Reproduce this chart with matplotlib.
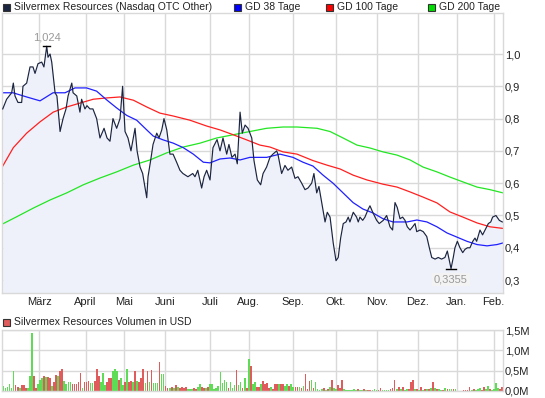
import numpy as np
import matplotlib
matplotlib.use('Agg')
import matplotlib.pyplot as plt
from matplotlib.patches import Rectangle

plt.rcParams['font.family'] = ['Liberation Sans', 'DejaVu Sans']

# trading-day index (0 .. 270) and closing price in USD
price_days = [0.4, 2.5, 5.2, 6.1, 7.0, 8.6, 10.6, 11.3, 13.3, 15.1, 16.7, 17.8, 19.4, 21.4, 22.6,
              24.1, 24.8, 25.9, 26.8, 28.6, 29.6, 31.3, 32.9, 34.5, 35.6, 37.6, 38.3, 40.3, 42.0,
              42.9, 44.7, 45.8, 47.4, 49.0, 51.0, 52.8, 55.0, 56.6, 58.2, 59.8, 61.8, 63.6, 65.0,
              66.3, 67.9, 69.5, 71.7, 72.8, 74.4, 75.8, 78.0, 78.7, 80.1, 81.4, 83.4, 84.6, 86.1,
              87.3, 88.8, 90.5, 92.2, 94.1, 95.9, 97.5, 100.2, 102.8, 104.0, 105.5, 107.6, 108.9,
              110.3, 112.1, 113.7, 115.9, 117.5, 119.1, 121.1, 122.3, 123.9, 125.6, 126.8, 128.3,
              129.5, 131.0, 132.6, 134.6, 135.8, 137.6, 139.4, 140.7, 142.6, 144.4, 146.0, 148.0,
              148.7, 150.7, 152.5, 154.1, 156.1, 157.9, 159.5, 161.5, 163.3, 164.9, 166.9, 168.1,
              169.6, 170.8, 172.3, 174.1, 175.3, 176.8, 178.5, 180.0, 181.2, 182.5, 183.9, 185.4,
              186.6, 187.5, 189.3, 191.1, 192.0, 192.9, 194.4, 195.6, 197.4, 198.3, 199.8, 201.9,
              203.3, 205.5, 207.3, 209.1, 210.5, 211.8, 213.0, 214.5, 215.9, 217.2, 218.4, 219.9,
              221.3, 222.6, 223.5, 225.3, 227.0, 228.9, 230.3, 231.6, 233.4, 235.1, 236.9, 238.7,
              240.0, 241.1, 242.0, 243.2, 244.1, 245.4, 246.8, 248.3, 249.5, 250.8, 252.2, 253.7,
              254.9, 255.8, 257.6, 259.0, 260.3, 262.1, 263.4, 264.4, 266.2, 268.0, 269.6]
price = [0.83, 0.86, 0.88, 0.91, 0.87, 0.85, 0.85, 0.90, 0.91, 0.96, 0.96, 0.94, 0.97, 0.975, 0.96,
         1.024, 0.99, 1.0, 0.975, 0.88, 0.87, 0.76, 0.80, 0.83, 0.87, 0.91, 0.88, 0.87, 0.82,
         0.86, 0.83, 0.84, 0.83, 0.83, 0.80, 0.74, 0.77, 0.74, 0.73, 0.80, 0.77, 0.80, 0.90,
         0.76, 0.74, 0.70, 0.77, 0.70, 0.65, 0.63, 0.555, 0.62, 0.67, 0.72, 0.755, 0.74, 0.765,
         0.80, 0.765, 0.69, 0.69, 0.665, 0.64, 0.63, 0.62, 0.63, 0.62, 0.64, 0.585, 0.62,
         0.64, 0.61, 0.71, 0.735, 0.70, 0.74, 0.69, 0.72, 0.68, 0.69, 0.66, 0.82,
         0.755, 0.78, 0.77, 0.74, 0.67, 0.61, 0.595, 0.63, 0.65, 0.68, 0.69, 0.70,
         0.69, 0.63, 0.655, 0.64, 0.65, 0.615, 0.62, 0.60, 0.58, 0.585, 0.60, 0.63,
         0.57, 0.59, 0.54, 0.48, 0.51, 0.495, 0.415, 0.36, 0.37, 0.43, 0.475, 0.48,
         0.495, 0.48, 0.51, 0.495, 0.48, 0.495, 0.485, 0.495, 0.52, 0.53, 0.51, 0.485,
         0.475, 0.485, 0.50, 0.465, 0.455, 0.54, 0.525, 0.49, 0.495, 0.485, 0.465, 0.455,
         0.465, 0.475, 0.45, 0.455, 0.45, 0.435, 0.40, 0.37, 0.365, 0.37, 0.365, 0.37,
         0.39, 0.36, 0.3355, 0.37, 0.40, 0.42, 0.40, 0.385, 0.395, 0.40, 0.40, 0.42,
         0.43, 0.42, 0.455, 0.44, 0.455, 0.475, 0.48, 0.495, 0.50, 0.485, 0.48]

gd38_days = [0.4, 5.9, 13.3, 20.5, 27.5, 34.0, 39.3, 45.6, 51.0, 56.4, 61.8, 67.2, 72.6, 78.0, 81.5,
             86.9, 92.3, 97.7, 103.1, 108.5, 112.1, 117.5, 122.9, 128.3, 133.6, 142.6, 149.8, 156.8,
             162.2, 167.6, 173.0, 178.4, 183.8, 189.2, 194.5, 199.9, 205.3, 210.7, 218.3, 223.6,
             229.0, 234.4, 239.8, 245.2, 250.6, 256.0, 261.4, 266.8, 270.0]
gd38 = [0.88, 0.88, 0.867, 0.855, 0.88, 0.88, 0.895, 0.895, 0.885, 0.858, 0.833, 0.81, 0.795, 0.765, 0.746,
        0.734, 0.724, 0.71, 0.69, 0.665, 0.663, 0.675, 0.678, 0.672, 0.68, 0.68, 0.69, 0.68,
        0.665, 0.653, 0.625, 0.60, 0.57, 0.54, 0.52, 0.508, 0.49, 0.48, 0.48, 0.486,
        0.48, 0.465, 0.446, 0.433, 0.42, 0.41, 0.406, 0.41, 0.415]

gd100_days = [0.4, 6.1, 13.3, 20.5, 27.6, 34.9, 42.0, 49.2, 56.4, 63.6, 70.8, 78.0, 85.1, 92.3, 101.3,
              110.3, 117.5, 124.6, 131.9, 139.0, 144.4, 151.4, 159.0, 167.6, 175.1, 182.2, 189.2,
              196.7, 205.3, 212.9, 219.9, 226.9, 234.4, 241.4, 248.4, 256.0, 263.0, 270.0]
gd100 = [0.653, 0.71, 0.755, 0.79, 0.82, 0.836, 0.848, 0.86, 0.864, 0.867, 0.857, 0.836, 0.817, 0.808, 0.795,
         0.777, 0.765, 0.75, 0.734, 0.718, 0.712, 0.697, 0.69, 0.67, 0.656, 0.644, 0.625,
         0.61, 0.597, 0.588, 0.573, 0.557, 0.539, 0.511, 0.495, 0.477, 0.465, 0.46]

gd200_days = [0.4, 7.9, 16.9, 25.9, 34.9, 43.8, 52.8, 61.8, 70.8, 79.8, 88.8, 97.7, 106.7, 115.7, 124.6,
              133.6, 142.6, 151.4, 159.0, 169.8, 176.8, 183.8, 191.3, 198.3, 205.3, 212.9, 219.9,
              226.9, 234.4, 241.4, 248.4, 256.0, 263.0, 270.0]
gd200 = [0.474, 0.496, 0.523, 0.548, 0.57, 0.595, 0.616, 0.635, 0.656, 0.672, 0.694, 0.712, 0.724, 0.74, 0.75,
         0.76, 0.77, 0.774, 0.774, 0.77, 0.76, 0.74, 0.718, 0.709, 0.697, 0.687, 0.672,
         0.65, 0.635, 0.619, 0.604, 0.588, 0.58, 0.57]

# daily volume in million USD and direction of the day ('g' up, 'r' down)
volume = [0.13, 0.08, 0.10, 0.17, 0.08, 0.48, 0.15, 0.10, 0.08, 0.15, 0.15, 0.08, 0.08, 0.36, 1.42,
          0.36, 0.07, 0.17, 0.27, 0.32, 0.38, 0.35, 0.35, 0.32, 0.13, 0.23, 0.40, 0.36, 0.50, 0.53,
          0.25, 0.17, 0.22, 0.23, 0.17, 0.17, 0.17, 0.23, 0.44, 0.08, 0.23, 0.22, 0.25, 0.19, 0.19,
          0.25, 0.53, 0.36, 0.23, 0.44, 0.15, 0.23, 0.32, 0.32, 0.48, 0.53, 0.50, 0.27, 0.32, 0.15,
          0.23, 0.53, 0.22, 0.25, 0.22, 0.48, 0.25, 0.23, 0.32, 0.55, 0.19, 0.48, 0.21, 0.51, 0.19,
          0.19, 0.19, 0.71, 0.42, 0.42, 0.13, 0.08, 0.07, 0.11, 0.07, 0.15, 0.11, 0.07, 0.11, 0.07,
          0.11, 0.05, 0.05, 0.05, 0.08, 0.04, 0.11, 0.17, 0.11, 0.08, 0.08, 0.11, 0.17, 0.17, 0.05,
          0.08, 0.12, 0.47, 0.19, 0.26, 0.23, 0.08, 0.23, 0.08, 0.15, 0.51, 0.15, 0.22, 0.08, 0.32,
          0.08, 0.78, 0.61, 0.17, 0.21, 0.11, 0.11, 0.17, 0.25, 0.17, 0.19, 0.08, 0.11, 0.05, 0.18,
          0.17, 0.17, 0.17, 0.18, 0.13, 0.18, 0.12, 0.17, 0.11, 0.11, 0.10, 0.10, 0.08, 0.13, 0.42,
          0.05, 0.25, 0.28, 0.07, 0.22, 0.05, 0.03, 0.05, 0.07, 0.03, 0.05, 0.11, 0.27, 0.08, 0.05,
          0.15, 0.08, 0.27, 0.05, 0.03, 0.03, 0.03, 0.03, 0.05, 0.03, 0.05, 0.03, 0.03, 0.05, 0.03,
          0.02, 0.02, 0.03, 0.05, 0.03, 0.03, 0.07, 0.03, 0.03, 0.03, 0.03, 0.05, 0.08, 0.27, 0.05,
          0.10, 0.05, 0.11, 0.03, 0.05, 0.05, 0.23, 0.27, 0.05, 0.05, 0.03, 0.10, 0.03, 0.05, 0.05,
          0.05, 0.08, 0.23, 0.08, 0.05, 0.05, 0.03, 0.03, 0.07, 0.05, 0.05, 0.05, 0.05, 0.05, 0.0,
          0.0, 0.0, 0.03, 0.03, 0.03, 0.11, 0.03, 0.05, 0.03, 0.05, 0.07, 0.03, 0.11, 0.05, 0.13,
          0.05, 0.03, 0.05, 0.19, 0.07, 0.05, 0.10]
vol_dir = ('ggggggrrgrrrggg' 'rrgggrgrrgrrgrr' 'ggggrrrrrgrrrgg' 'rrrgggrrrgggrgg'
           'rgrrgrgrrrgrgrg' 'ggrggrrgrgrgrrr' 'rgggrrggrrgrggg' 'ggggggrgggrggrg'
           'rgrggrrgrrrrgrr' 'rgrrggrggrrgrgr' 'rrgrggggrgrgrgg' 'rrrgggggggrggrg'
           'rrgggrrggggrrrg' 'rgrggrrrgrgrgrg' 'rgrgrggrgrggrgg' 'ggrrrrgrgggrrgg'
           'rggggrr')

month_days = [20, 45, 66, 88, 112, 133, 157, 180, 202, 224, 245, 265]
month_labels = ['März', 'April', 'Mai', 'Juni', 'Juli', 'Aug.', 'Sep.', 'Okt.', 'Nov.', 'Dez.', 'Jan.', 'Feb.']

price_ticks = [0.3, 0.4, 0.5, 0.6, 0.7, 0.8, 0.9, 1.0]
vol_ticks = [0.0, 0.5, 1.0, 1.5]

W, H = 545, 398
grid_col = '#d9d9d9'
txt_col = '#222222'
fs = 8


def fx(px):
    return px / W


def fy(py):
    return 1 - py / H


def style_axes(ax):
    for s in ax.spines.values():
        s.set_color(grid_col)
        s.set_linewidth(1)
    ax.grid(True, color=grid_col, lw=1)
    ax.set_axisbelow(True)
    ax.yaxis.tick_right()
    ax.tick_params(length=0, labelsize=fs, colors=txt_col)
    ax.tick_params(axis='y', pad=1.5)
    ax.tick_params(axis='x', pad=3)
    ax.set_xlim(0, 270)
    ax.set_xticks(month_days)


def main():
    fig = plt.figure(figsize=(W / 100, H / 100), dpi=100)

    # price panel
    ax = fig.add_axes([fx(2), fy(293), fx(503) - fx(2), fy(13) - fy(293)])
    style_axes(ax)
    ax.set_ylim(0.26, 1.127)
    ax.set_yticks(price_ticks)
    ax.set_yticklabels(['{:.1f}'.format(v).replace('.', ',') for v in price_ticks])
    ax.set_xticklabels(month_labels)
    ax.fill_between(price_days, price, 0, color='#eef1f9', lw=0, zorder=1)
    ax.plot(gd200_days, gd200, color='#22e622', lw=0.9, zorder=2)
    ax.plot(gd100_days, gd100, color='#ff2020', lw=0.9, zorder=2)
    ax.plot(gd38_days, gd38, color='#2020ff', lw=0.9, zorder=2)
    ax.plot(price_days, price, color='#1c2540', lw=0.85, zorder=3)

    i_max = int(np.argmax(price))
    i_min = int(np.argmin(price))
    ax.plot([price_days[i_max] - 2, price_days[i_max] + 2], [price[i_max]] * 2, color='black', lw=1, zorder=4)
    ax.annotate('{:.3f}'.format(price[i_max]).replace('.', ','), (price_days[i_max], price[i_max]),
                xytext=(0, 3), textcoords='offset points', ha='center', va='bottom',
                fontsize=fs, color='#999999')
    ax.plot([price_days[i_min] - 2.5, price_days[i_min] + 2.5], [price[i_min]] * 2, color='black', lw=1, zorder=4)
    ax.annotate('{:.4f}'.format(price[i_min]).replace('.', ','), (price_days[i_min], price[i_min]),
                xytext=(0, -4), textcoords='offset points', ha='center', va='top',
                fontsize=fs, color='#999999',
                bbox=dict(boxstyle='square,pad=0.15', fc='#f4f4f4', ec='none', alpha=0.9))

    # volume panel
    axv = fig.add_axes([fx(2), fy(391), fx(503) - fx(2), fy(330) - fy(391)])
    style_axes(axv)
    axv.set_ylim(0, 1.5)
    axv.set_yticks(vol_ticks)
    axv.set_yticklabels(['{:.1f}M'.format(v).replace('.', ',') for v in vol_ticks])
    axv.set_xticklabels([])
    vol_x = np.linspace(0.8, 269.5, len(volume))
    colors = ['#5fdc55' if d == 'g' else '#e05c5c' for d in vol_dir]
    axv.bar(vol_x, volume, width=0.9, color=colors, lw=0, zorder=2)

    # legends
    lfs = 7.5
    legend = [(3, '#1c2540', 'Silvermex Resources (Nasdaq OTC Other)'),
              (234, '#0000ff', 'GD 38 Tage'),
              (326, '#ff0000', 'GD 100 Tage'),
              (428, '#00dd00', 'GD 200 Tage')]
    for px, col, txt in legend:
        fig.patches.append(Rectangle((fx(px), fy(11)), 7 / W, 7 / H, transform=fig.transFigure,
                                     fc=col, ec='#333333', lw=0.8))
        fig.text(fx(px + 11), fy(7.5), txt, fontsize=lfs, va='center', ha='left', color=txt_col)
    fig.patches.append(Rectangle((fx(3), fy(326)), 7 / W, 7 / H, transform=fig.transFigure,
                                 fc='#e05c5c', ec='#333333', lw=0.8))
    fig.text(fx(14), fy(322), 'Silvermex Resources Volumen in USD', fontsize=lfs,
             va='center', ha='left', color=txt_col)

    fig.savefig('out.png', dpi=100, facecolor='white')


if __name__ == '__main__':
    main()
